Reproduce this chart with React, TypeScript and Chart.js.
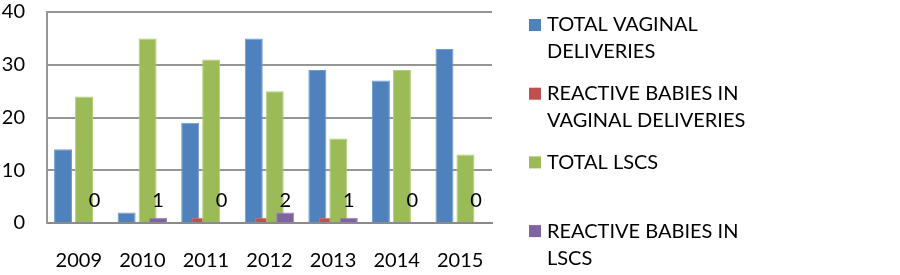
import React, { useEffect, useRef } from "react";
import { Chart, registerables } from "chart.js";

Chart.register(...registerables);

const categories = ["2009", "2010", "2011", "2012", "2013", "2014", "2015"];
const totalVaginal = [14, 2, 19, 35, 29, 27, 33];
const reactiveVaginal = [0, 0, 1, 1, 1, 0, 0];
const totalLscs = [24, 35, 31, 25, 16, 29, 13];
const reactiveLscs = [0, 1, 0, 2, 1, 0, 0];
const seriesNames = [
  ["TOTAL VAGINAL", "DELIVERIES"],
  ["REACTIVE BABIES IN", "VAGINAL DELIVERIES"],
  ["TOTAL LSCS"],
  ["REACTIVE BABIES IN", "LSCS"],
];
const seriesColors = ["#4F81BD", "#C0504D", "#9BBB59", "#8064A2"];
const seriesEdges = ["#6f9bd2", "#d27471", "#b2d07a", "#9a82bb"];
const yMin = 0;
const yMax = 40;
const yStep = 10;

const FONT = "Lato";
const FONT_SIZE = 20;

export default function App() {
  const ref = useRef<HTMLCanvasElement>(null);

  useEffect(() => {
    document.body.style.margin = "0";
    const canvas = ref.current;
    if (!canvas) return;

    const widen = 18 / 10.5;

    const overlapPlugin = {
      id: "overlapBars",
      afterDatasetsUpdate(chart: any) {
        chart.getSortedVisibleDatasetMetas().forEach((meta: any) => {
          meta.data.forEach((el: any) => {
            el.width = el.width * widen;
          });
        });
      },
      beforeDatasetsDraw(chart: any) {
        const metas = chart.getSortedVisibleDatasetMetas();
        const c = chart.ctx;
        c.save();
        metas.forEach((m: any) => m.controller.draw());
        c.restore();
        const last = metas[metas.length - 1];
        const yScale = chart.scales.y;
        const ly = yScale.getPixelForValue(4.3);
        c.save();
        c.fillStyle = "#000";
        c.font = `${FONT_SIZE}px ${FONT}`;
        c.textAlign = "center";
        c.textBaseline = "middle";
        last.data.forEach((el: any, i: number) => {
          c.fillText(String(reactiveLscs[i]), el.x, ly);
        });
        c.restore();
        return false;
      },
    };

    const legendPlugin = {
      id: "sideLegend",
      afterDraw(chart: any) {
        const c = chart.ctx;
        const x0 = 529;
        const firstY = 25;
        const itemGap = 68.7;
        const lineH = 27;
        const box = 12;
        c.save();
        c.font = `${FONT_SIZE}px ${FONT}`;
        c.textBaseline = "middle";
        c.textAlign = "left";
        seriesNames.forEach((lines, i) => {
          const cy = firstY + i * itemGap;
          c.fillStyle = seriesColors[i];
          c.fillRect(x0, cy - box / 2, box, box);
          c.fillStyle = "#000";
          lines.forEach((t, j) => {
            c.fillText(t, x0 + 18, cy + j * lineH);
          });
        });
        c.restore();
      },
    };

    const chart = new Chart(canvas, {
      type: "bar",
      data: {
        labels: categories,
        datasets: [
          { label: seriesNames[0].join(" "), data: totalVaginal, backgroundColor: seriesColors[0], borderColor: seriesEdges[0] },
          { label: seriesNames[1].join(" "), data: reactiveVaginal, backgroundColor: seriesColors[1], borderColor: seriesEdges[1] },
          { label: seriesNames[2].join(" "), data: totalLscs, backgroundColor: seriesColors[2], borderColor: seriesEdges[2] },
          { label: seriesNames[3].join(" "), data: reactiveLscs, backgroundColor: seriesColors[3], borderColor: seriesEdges[3] },
        ],
      },
      options: {
        responsive: false,
        animation: false,
        devicePixelRatio: 1,
        layout: { padding: { top: 12, right: 408, left: 0, bottom: 0 } },
        datasets: {
          bar: { categoryPercentage: 0.66, barPercentage: 1.0, borderWidth: 1 },
        },
        plugins: {
          legend: { display: false },
          tooltip: { enabled: false },
        },
        scales: {
          x: {
            grid: { display: false, drawTicks: false },
            border: { color: "#8a8a8a", width: 2 },
            ticks: { color: "#000", font: { family: FONT, size: FONT_SIZE }, padding: 26 },
            afterFit(s: any) {
              s.height = 52;
            },
          },
          y: {
            min: yMin,
            max: yMax,
            ticks: { stepSize: yStep, color: "#000", font: { family: FONT, size: FONT_SIZE }, padding: 0 },
            grid: { color: "#969696", lineWidth: 2, drawTicks: true, tickLength: 22, tickColor: "rgba(0,0,0,0)" },
            border: { color: "#969696", width: 2 },
            afterFit(s: any) {
              s.width = 47;
            },
          },
        },
      },
      plugins: [overlapPlugin, legendPlugin],
    });

    return () => chart.destroy();
  }, []);

  return (
    <div style={{ width: 900, height: 275, background: "#fff" }}>
      <canvas ref={ref} width={900} height={275} />
    </div>
  );
}
